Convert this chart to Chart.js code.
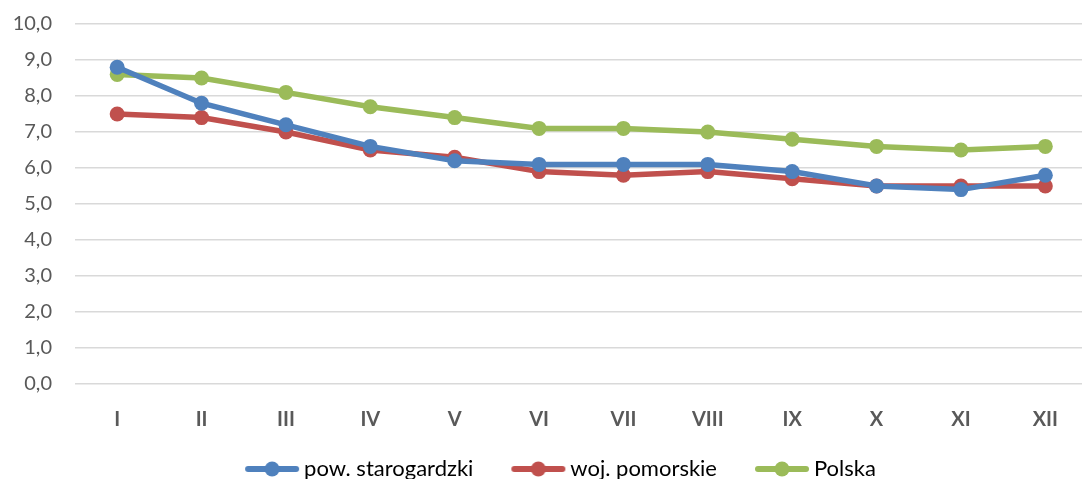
<!DOCTYPE html>
<html>
<head>
<meta charset="utf-8">
<script src="https://cdn.jsdelivr.net/npm/chart.js@4"></script>
<style>
  html, body { margin: 0; padding: 0; overflow: hidden; background: #fff; }
</style>
</head>
<body>
<canvas id="wykres" width="1095" height="490"></canvas>
<script>
const miesiace = ['I', 'II', 'III', 'IV', 'V', 'VI', 'VII', 'VIII', 'IX', 'X', 'XI', 'XII'];
const powiat = [8.8, 7.8, 7.2, 6.6, 6.2, 6.1, 6.1, 6.1, 5.9, 5.5, 5.4, 5.8];
const wojewodztwo = [7.5, 7.4, 7.0, 6.5, 6.3, 5.9, 5.8, 5.9, 5.7, 5.5, 5.5, 5.5];
const polska = [8.6, 8.5, 8.1, 7.7, 7.4, 7.1, 7.1, 7.0, 6.8, 6.6, 6.5, 6.6];

const SZER_ZNACZNIKA = 58;

// znacznik legendy: linia z kropka (jak w Excelu), dosuniety do tekstu
function znacznik(kolor) {
  const c = document.createElement('canvas');
  c.width = SZER_ZNACZNIKA + 14; c.height = 18;
  const ctx = c.getContext('2d');
  const x1 = c.width - 55, x2 = c.width - 1;
  ctx.strokeStyle = kolor;
  ctx.lineWidth = 6;
  ctx.lineCap = 'round';
  ctx.beginPath();
  ctx.moveTo(x1 + 3, 9); ctx.lineTo(x2 - 3, 9);
  ctx.stroke();
  ctx.fillStyle = kolor;
  ctx.beginPath();
  ctx.arc((x1 + x2) / 2, 9, 7.5, 0, Math.PI * 2);
  ctx.fill();
  return c;
}

function seria(nazwa, dane, kolor) {
  return {
    label: nazwa,
    data: dane,
    borderColor: kolor,
    backgroundColor: kolor,
    borderWidth: 5.5,
    pointRadius: 7.5,
    pointHoverRadius: 7.5,
    pointBorderWidth: 0,
    pointStyle: 'circle',
    tension: 0
  };
}

// legenda w Excelu jest troche przesunieta w prawo
const przesunLegende = {
  id: 'przesunLegende',
  afterLayout(chart) {
    chart.legend.left += 8;
    chart.legend.right += 8;
  }
};

new Chart(document.getElementById('wykres'), {
  type: 'line',
  data: {
    labels: miesiace,
    datasets: [
      seria('pow. starogardzki', powiat, '#4F81BD'),
      seria('woj. pomorskie', wojewodztwo, '#C0504D'),
      seria('Polska', polska, '#9BBB59')
    ]
  },
  plugins: [przesunLegende],
  options: {
    responsive: false,
    animation: false,
    layout: { padding: { top: 24, left: 0, right: 0, bottom: 0 } },
    plugins: {
      legend: {
        position: 'bottom',
        labels: {
          usePointStyle: true,
          pointStyleWidth: SZER_ZNACZNIKA,
          padding: 28,
          color: '#595959',
          font: { family: 'Lato', size: 22 },
          generateLabels(chart) {
            return chart.data.datasets.map((d, i) => ({
              text: d.label,
              pointStyle: znacznik(d.borderColor),
              fillStyle: d.borderColor,
              strokeStyle: d.borderColor,
              lineWidth: 0,
              datasetIndex: i,
              hidden: false
            }));
          }
        }
      },
      tooltip: { enabled: false }
    },
    scales: {
      x: {
        offset: true,
        grid: { display: false, drawTicks: false },
        border: { display: false },
        ticks: {
          color: '#595959',
          padding: 24,
          font: { family: 'Lato', size: 20, weight: 'bold' }
        },
        afterFit(scale) {
          scale.height = 46;
          scale.paddingLeft = 0;
          scale.paddingRight = 0;
        }
      },
      y: {
        min: 0,
        max: 10,
        border: { display: false },
        grid: { color: '#d9d9d9', lineWidth: 1.5, drawTicks: false },
        ticks: {
          stepSize: 1,
          color: '#595959',
          padding: 23,
          font: { family: 'Lato', size: 20 },
          callback: v => v.toFixed(1).replace('.', ',')
        },
        afterFit(scale) {
          scale.width = 75;
          scale.paddingTop = 0;
          scale.paddingBottom = 0;
        }
      }
    }
  }
});
</script>
</body>
</html>
